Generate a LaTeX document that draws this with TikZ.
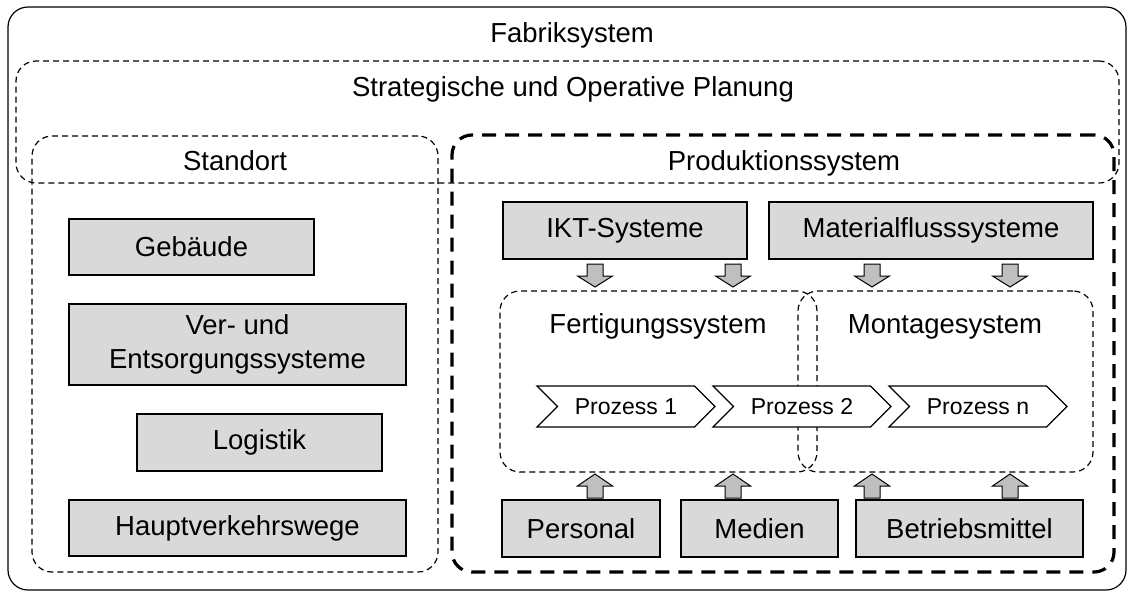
\documentclass[tikz,border=0pt]{standalone}
\usepackage{fontspec}
\setmainfont{Liberation Sans}
\usetikzlibrary{shapes.symbols}
\definecolor{boxgray}{HTML}{D9D9D9}
\definecolor{arrgray}{HTML}{BFBFBF}
\tikzset{
  outerbox/.style={draw, line width=1.2pt, rounded corners=20pt, inner sep=0pt},
  thindash/.style={draw, line width=1.2pt, dash pattern=on 6pt off 4pt, rounded corners=20pt, inner sep=0pt},
  thickdash/.style={draw, line width=3.2pt, dash pattern=on 14pt off 9pt, rounded corners=20pt, inner sep=0pt},
  graybox/.style={draw, line width=1.1pt, fill=boxgray, inner sep=0pt, align=center,
     font=\fontsize{27.5}{34}\selectfont},
  lbl/.style={anchor=base, inner sep=0pt, font=\fontsize{27.5}{34}\selectfont},
  chev/.style={signal, signal from=west, signal to=east, signal pointer angle=90,
     draw, line width=1.1pt, fill=white, inner sep=0pt, minimum width=178pt, minimum height=41pt,
     font=\fontsize{23}{28}\selectfont},
  blockarr/.style={draw, line width=1pt, fill=arrgray},
  pics/downarr/.style={code={\path[blockarr] (-8,0) -- (8,0) -- (8,12) -- (17.5,12) -- (0,23) -- (-17.5,12) -- (-8,12) -- cycle;}},
  pics/uparr/.style={code={\path[blockarr] (-8,0) -- (8,0) -- (8,-12) -- (17.5,-12) -- (0,-24) -- (-17.5,-12) -- (-8,-12) -- cycle;}},
}
\begin{document}
\begin{tikzpicture}[x=1pt,y=-1pt]
\useasboundingbox (0,0) rectangle (1133,595);
% containers
\node[outerbox, minimum width=1118pt, minimum height=583pt] (fabrik) at (567,298.5) {};
\node[thindash, minimum width=1103pt, minimum height=122pt] (strat) at (567.5,122) {};
\node[thindash, minimum width=406pt, minimum height=436pt] (standort) at (235,354) {};
\node[thickdash, minimum width=662pt, minimum height=437pt] (prod) at (783,353.5) {};
\node[thindash, minimum width=317pt, minimum height=181pt] (fert) at (658.5,381.5) {};
\node[thindash, minimum width=295pt, minimum height=181pt] (mont) at (945.5,381.5) {};
% labels
\node[lbl] (lfabrik) at (572,42) {Fabriksystem};
\node[lbl] (lstrat) at (573,96) {Strategische und Operative Planung};
\node[lbl] (lstandort) at (235,170) {Standort};
\node[lbl] (lprod) at (784,170) {Produktionssystem};
\node[lbl] (lfert) at (658,333) {Fertigungssystem};
\node[lbl] (lmont) at (945,333) {Montagesystem};
% Standort boxes
\node[graybox, minimum width=245pt, minimum height=56pt] (geb) at (191.5,247) {Gebäude};
\node[graybox, minimum width=337pt, minimum height=81pt] (ver) at (237.5,344.5) {Ver- und\\Entsorgungssysteme};
\node[graybox, minimum width=245pt, minimum height=57pt] (log) at (259.5,442.5) {Logistik};
\node[graybox, minimum width=337pt, minimum height=56pt] (haupt) at (237.5,528) {Hauptverkehrswege};
% Produktionssystem boxes
\node[graybox, minimum width=244pt, minimum height=57pt] (ikt) at (625,230.5) {IKT-Systeme};
\node[graybox, minimum width=324pt, minimum height=57pt] (mat) at (931,230.5) {Materialflusssysteme};
\node[graybox, minimum width=158pt, minimum height=57pt] (pers) at (581,528.5) {Personal};
\node[graybox, minimum width=157pt, minimum height=57pt] (med) at (759.5,528.5) {Medien};
\node[graybox, minimum width=227pt, minimum height=57pt] (betr) at (969.5,528.5) {Betriebsmittel};
% processes
\node[chev] (p1) at (626,406.5) {Prozess 1};
\node[chev] (p2) at (802,406.5) {Prozess 2};
\node[chev] (pn) at (978,406.5) {Prozess n};
% block arrows
\pic at (595,264) {downarr};
\pic at (733,264) {downarr};
\pic at (872,264) {downarr};
\pic at (1010,264) {downarr};
\pic at (595,498) {uparr};
\pic at (733,498) {uparr};
\pic at (872,498) {uparr};
\pic at (1010,498) {uparr};
\end{tikzpicture}
\end{document}
